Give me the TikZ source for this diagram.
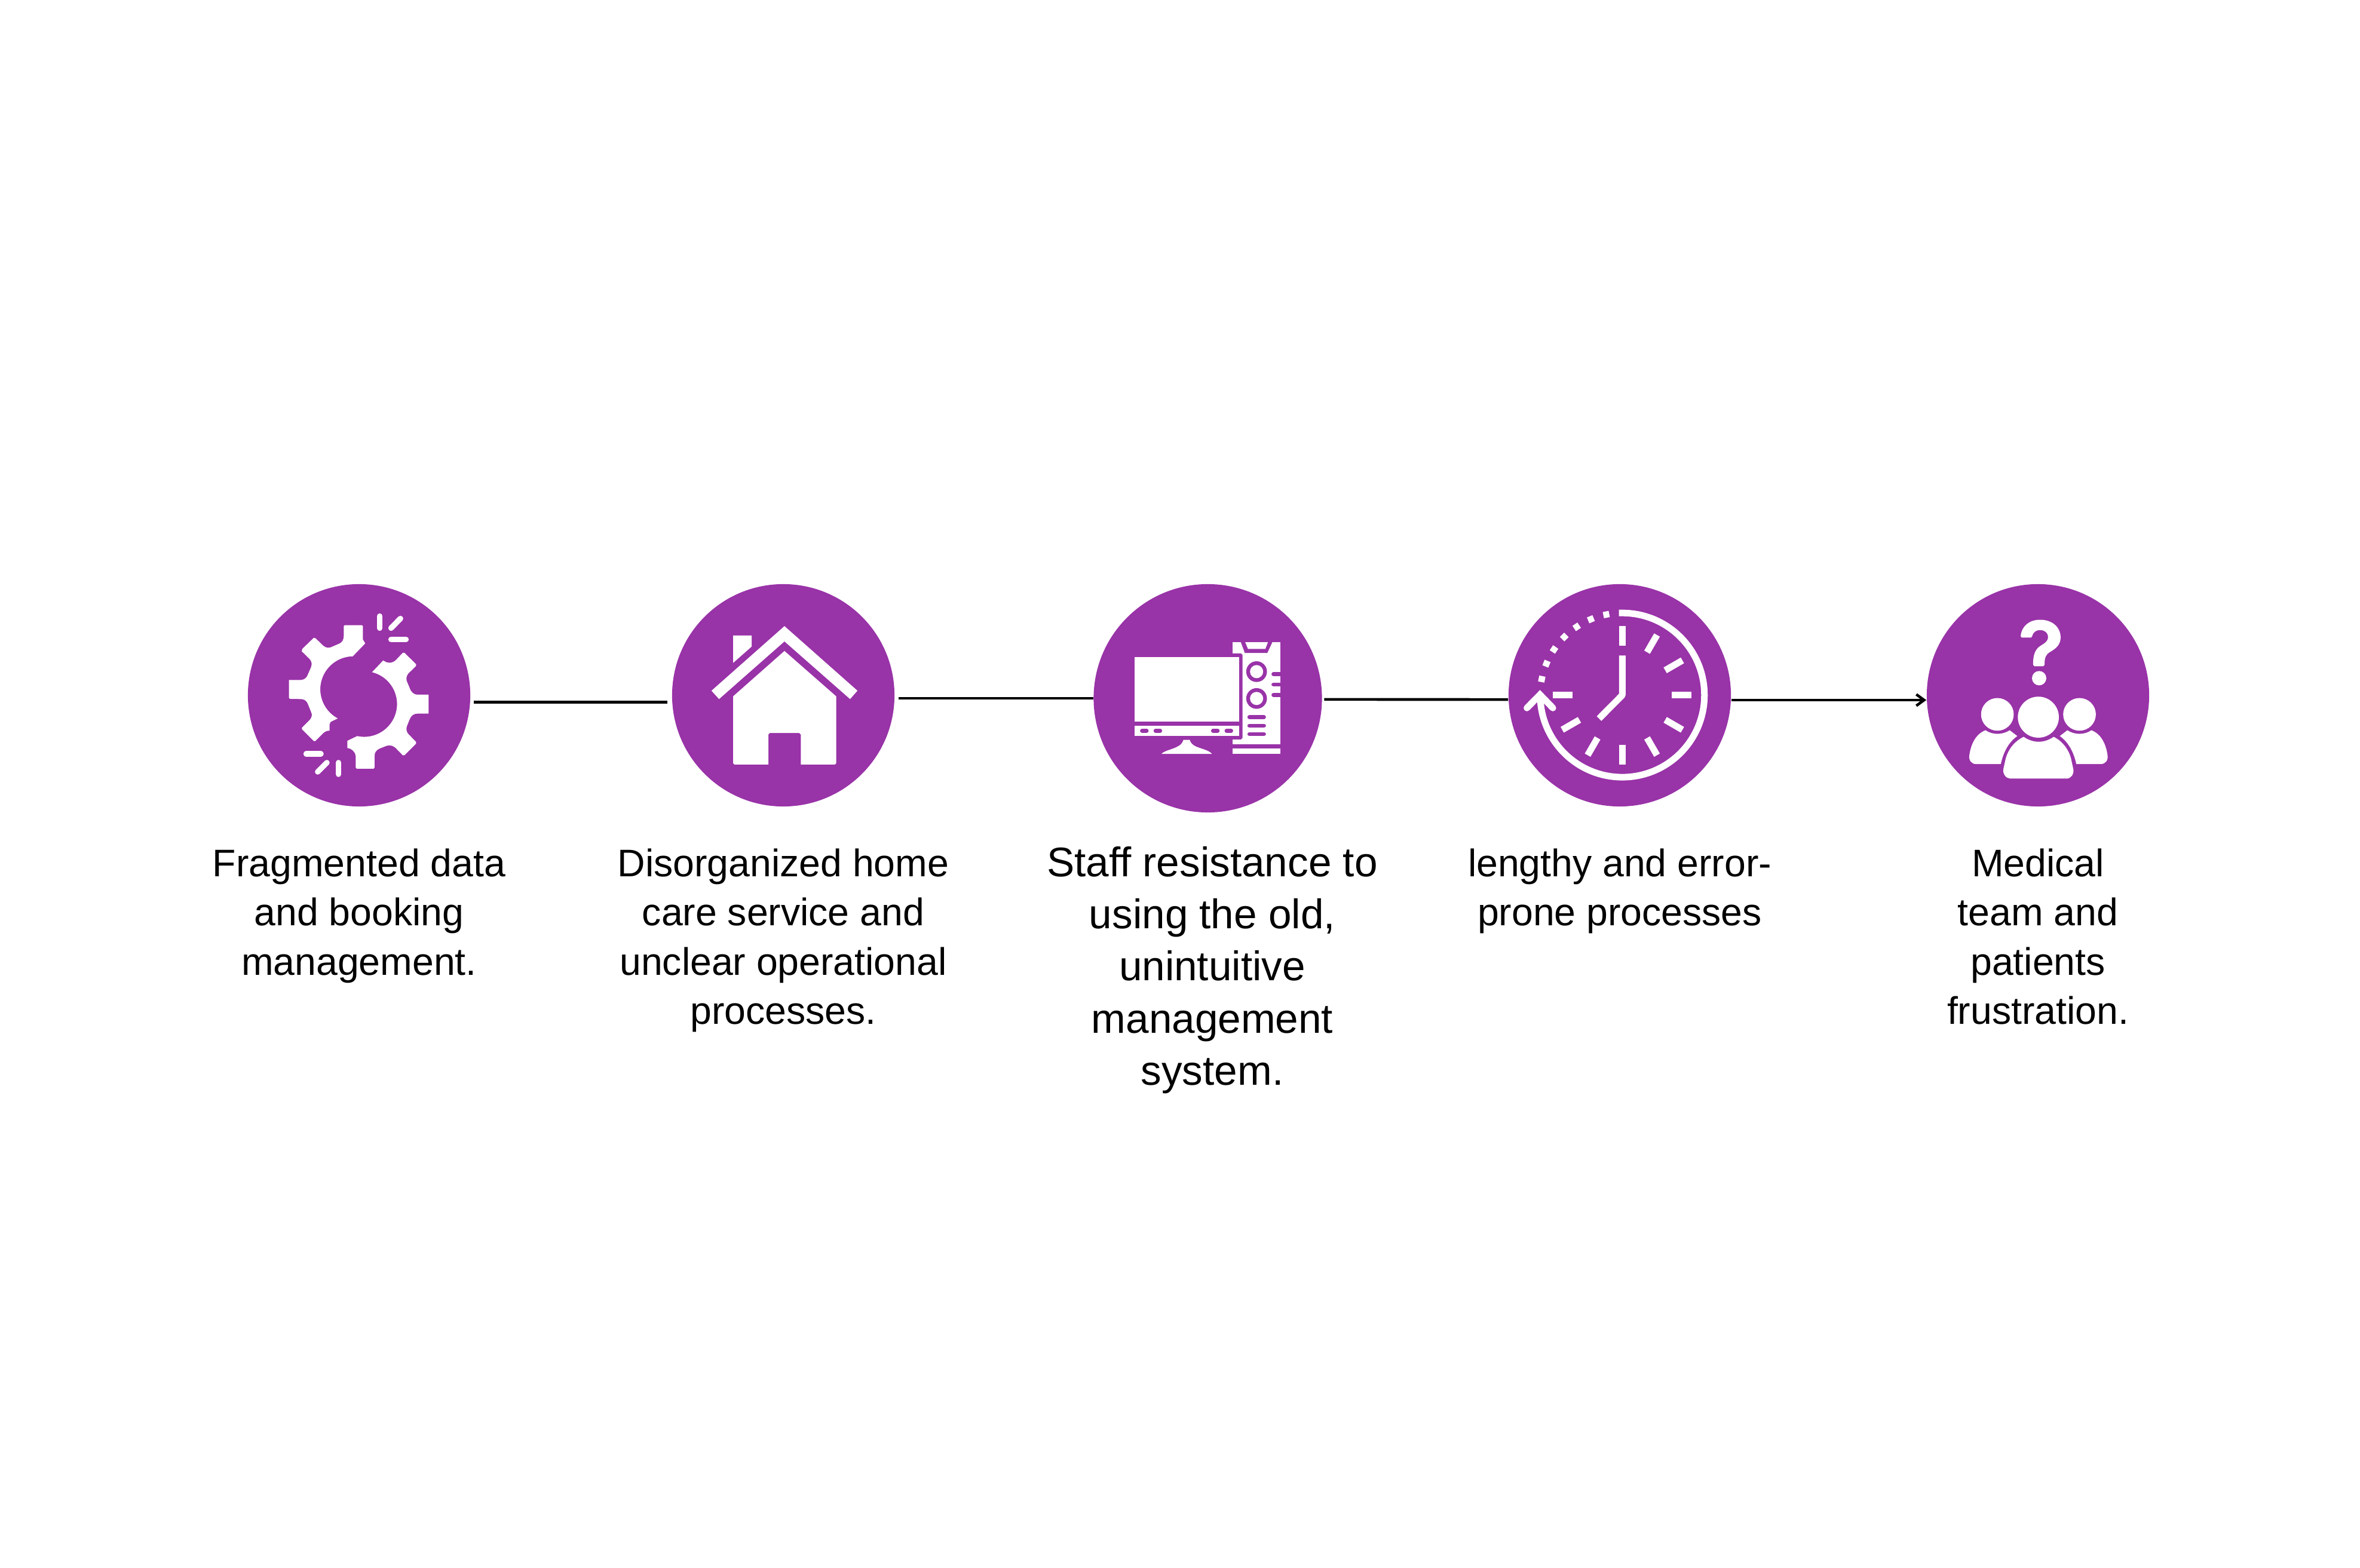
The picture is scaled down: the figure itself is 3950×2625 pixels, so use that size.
\documentclass[tikz,border=0pt]{standalone}
\usepackage{fontspec}
\setmainfont{Liberation Sans}
\usetikzlibrary{arrows.meta}
\definecolor{pur}{HTML}{9933A8}
\tikzset{
  disc/.style={circle,fill=pur,inner sep=0pt,minimum size=3.72cm},
  bigdisc/.style={circle,fill=pur,inner sep=0pt,minimum size=3.82cm},
  lab/.style={anchor=north,align=center,inner sep=0pt,font=\fontsize{18.3pt}{23.44pt}\selectfont},
  labbig/.style={anchor=north,align=center,inner sep=0pt,font=\fontsize{19.7pt}{24.75pt}\selectfont},
  link/.style={draw=black,line width=0.045cm},
  ico/.style={shift={(#1)},x=0.0033333cm,y=-0.0033333cm},
  spark/.style={draw=white,line width=0.0933cm,line cap=round},
  tick/.style={draw=white,line width=0.11cm},
  pill/.style={draw=pur,line width=0.0667cm,line cap=round}
}
\begin{document}
\begin{tikzpicture}[x=0.01cm,y=-0.01cm]
\path[use as bounding box,fill=white] (0,0) rectangle (3950,2625);
\node[disc] (c1) at (601,1164) {};
\node[disc] (c2) at (1311,1164) {};
\node[bigdisc] (c3) at (2021.5,1169) {};
\node[disc] (c4) at (2711,1164) {};
\node[disc] (c5) at (3411,1164) {};
\draw[link] ([shift={(5,11.6)}]c1.east) -- ([shift={(-7,11.6)}]c2.west);
\draw[link] ([xshift=0.06cm]c2.east |- c3.center) -- (c3.west);
\draw[link] ([shift={(3,2)}]c3.east) -- ([yshift=-0.07cm]c4.west);
\draw[link,-{Straight Barb[length=0.13cm,width=0.19cm]}] ([yshift=-0.08cm]c4.east) -- ([yshift=-0.08cm]c5.west);
% gear
\begin{scope}[ico={380,950}]
\fill[white] (695,382) -- (683,362) -- (683,295) -- (678,290) -- (592,290) -- (587,295) -- (587,345) .. controls (587,365) and (578,377) .. (565,383) -- (530,398) .. controls (515,408) and (495,405) .. (482,392) -- (445,356) -- (436,354) -- (378,410) -- (376,422) -- (415,460) .. controls (427,472) and (428,490) .. (422,503) -- (408,535) .. controls (402,555) and (388,566) .. (370,566) -- (311,566) -- (311,655) -- (316,661) -- (370,662) .. controls (388,662) and (402,670) .. (408,690) -- (422,725) .. controls (430,740) and (427,755) .. (415,768) -- (377,806) -- (377,814) -- (436,873) -- (444,873) -- (482,835) .. controls (492,825) and (505,820) .. (516,821) -- (516,788) -- (522,776) -- (556,760) -- plot[domain=241.7:91,samples=40] ({635+166*cos(\x)},{613-166*sin(\x)}) -- cycle;
\fill[white] (785,468) -- (800,476) .. controls (815,482) and (835,480) .. (848,467) -- (884,429) -- (892,429) -- (951,487) -- (951,495) -- (912,533) .. controls (902,545) and (900,560) .. (904,572) -- (918,605) .. controls (925,628) and (940,640) .. (958,640) -- (1014,640) -- (1014,735) -- (958,735) .. controls (940,735) and (925,745) .. (918,765) -- (904,800) .. controls (900,815) and (903,828) .. (912,838) -- (951,878) -- (951,886) -- (892,945) -- (884,945) -- (848,908) .. controls (835,895) and (815,892) .. (800,898) -- (765,912) .. controls (750,920) and (742,930) .. (742,948) -- (742,1006) -- (737,1012) -- (652,1012) -- (647,1006) -- (647,950) .. controls (645,925) and (625,910) .. (605,908) -- (605,872) -- (655,848) -- plot[domain=257.7:436.2,samples=50] ({690+165*cos(\x)},{687-165*sin(\x)}) -- cycle;
\draw[spark] (768,245) -- (768,305);
\draw[spark] (825,305) -- (872,257);
\draw[spark] (825,362) -- (900,362);
\draw[spark] (398,938) -- (472,938);
\draw[spark] (456,1028) -- (502,982);
\draw[spark] (561,982) -- (561,1040);
\end{scope}
% house
\begin{scope}[ico={1090,950}]
\fill[white] (670,295) -- (1037,620) -- (1000,662) -- (670,372) -- (341,662) -- (303,620) -- cycle;
\fill[white] (670,420) -- (930,648) -- (930,985) -- (924,991) -- (752,991) -- (752,840) -- (745,833) -- (596,833) -- (589,840) -- (589,991) -- (418,991) -- (412,985) -- (412,648) -- cycle;
\fill[white] (412,342) -- (505,342) -- (505,398) -- (412,480) -- cycle;
\end{scope}
% computer
\begin{scope}[ico={1790,950}]
\fill[white] (820,376) rectangle (1062,890);
\fill[white] (820,910) rectangle (1062,938);
\fill[pur] (862,376) -- (1020,376) -- (995,430) -- (882,430) -- cycle;
\fill[white] (884,376) -- (998,376) -- (985,410) -- (898,410) -- cycle;
\fill[pur] (815,432) -- (862,432) -- (870,440) -- (870,858) -- (862,865) -- (815,865) -- cycle;
\fill[white] (327,452) rectangle (852,775);
\fill[white] (327,796) rectangle (852,848);
\draw[pill] (365,821) -- (388,821);
\draw[pill] (433,821) -- (456,821);
\draw[pill] (722,821) -- (745,821);
\draw[pill] (790,821) -- (813,821);
\fill[white] (462,938) .. controls (480,920) and (520,915) .. (545,900) .. controls (560,893) and (570,880) .. (573,867) -- (605,867) .. controls (608,880) and (618,893) .. (635,900) .. controls (660,912) and (700,918) .. (717,938) -- cycle;
\fill[pur] (941,524) circle[radius=0.1733cm];
\fill[white] (941,524) circle[radius=0.11cm];
\fill[pur] (941,659) circle[radius=0.1733cm];
\fill[white] (941,659) circle[radius=0.11cm];
\foreach \yy in {537,589,641} {\draw[pill] (1026,\yy) -- (1072,\yy);}
\foreach \yy in {753,796,838} {\draw[pill] (905,\yy) -- (978,\yy);}
\end{scope}
% clock
\begin{scope}[ico={2490,950}]
\foreach \a in {90,60,30,0,-30,-60,-90,-120,-150,180} {
  \draw[tick] ({677+249*cos(\a)},{642-249*sin(\a)}) -- ({677+349*cos(\a)},{642-349*sin(\a)});
}
\draw[tick,line join=bevel] (677,443) -- (677,642) -- (560,760);
\draw[tick] (660,229) -- (677,229) .. controls (905,229) and (1090,414) .. (1090,642) .. controls (1090,870) and (905,1055) .. (677,1055) .. controls (449,1055) and (264,870) .. (264,642);
\draw[tick,line cap=round,line join=miter] (197,707) -- (263,640) -- (328,707);
\foreach \a in {101.25,112.5,123.75,135,146.25,157.5,168.75} {
  \draw[draw=white,line width=0.1cm] ({677+397*cos(\a)},{642-397*sin(\a)}) -- ({677+429*cos(\a)},{642-429*sin(\a)});
}
\end{scope}
% people
\begin{scope}[ico={3180,950}]
\fill[white] (607,345) .. controls (612,295) and (650,263) .. (705,263) .. controls (770,263) and (808,305) .. (808,350) .. controls (808,385) and (790,405) .. (755,425) .. controls (735,437) and (727,450) .. (727,490) -- (721,497) -- (676,497) -- (670,490) .. controls (668,440) and (680,410) .. (710,392) .. controls (730,380) and (745,370) .. (745,350) .. controls (745,330) and (730,315) .. (705,315) .. controls (690,315) and (672,320) .. (665,345) -- (660,353) -- (612,353) -- cycle;
\fill[white] (700,557) circle[radius=0.12cm];
\fill[white] (490,739) circle[radius=0.2733cm];
\fill[white] (903,739) circle[radius=0.2733cm];
\fill[white] (696,753) circle[radius=0.3433cm];
\fill[white] (622,852) .. controls (670,885) and (725,885) .. (773,852) .. controls (820,875) and (850,920) .. (860,960) -- (872,1015) .. controls (876,1040) and (860,1062) .. (838,1062) -- (555,1062) .. controls (535,1062) and (516,1040) .. (520,1015) -- (532,960) .. controls (545,915) and (575,875) .. (622,852) -- cycle;
\fill[white] (430,819) .. controls (465,843) and (515,843) .. (552,819) -- (590,848) .. controls (545,880) and (520,930) .. (507,989) -- (383,989) .. controls (360,989) and (345,970) .. (349,945) .. controls (355,900) and (375,840) .. (430,819) -- cycle;
\fill[white] (963,819) .. controls (928,843) and (878,843) .. (842,819) -- (804,848) .. controls (849,880) and (874,930) .. (887,989) -- (1010,989) .. controls (1033,989) and (1048,970) .. (1044,945) .. controls (1038,900) and (1018,840) .. (963,819) -- cycle;
\end{scope}
% labels
\node[lab] (t1) at (601,1420) {Fragmented data\\and booking\\management.};
\node[lab] (t2) at (1311,1420) {Disorganized home\\care service and\\unclear operational\\processes.};
\node[labbig] (t3) at (2029,1417) {Staff resistance to\\using the old,\\unintuitive\\management\\system.};
\node[lab] (t4) at (2711,1420) {lengthy and error-\\prone processes};
\node[lab] (t5) at (3411,1420) {Medical\\team and\\patients\\frustration.};
\end{tikzpicture}
\end{document}
